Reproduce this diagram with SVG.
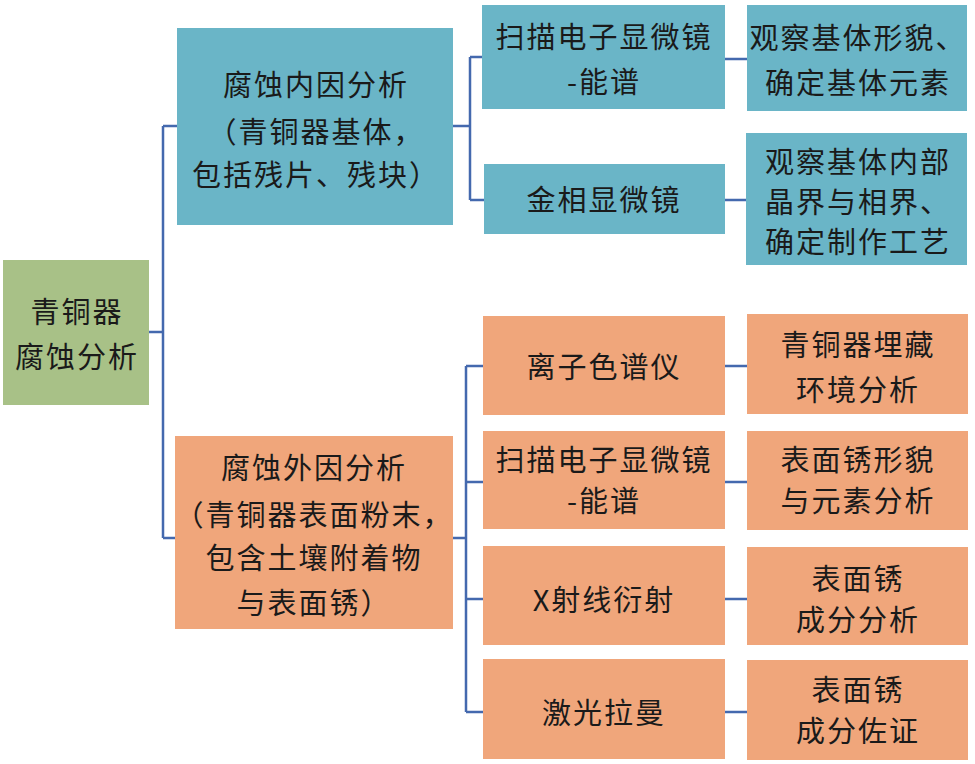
<svg xmlns="http://www.w3.org/2000/svg" width="975" height="764" viewBox="0 0 975 764">
<style>
.blue{fill:#6AB5C7}
.orange{fill:#F0A67B}
.green{fill:#A8C187}
.t{font-family:"Noto Sans CJK SC","Liberation Serif",sans-serif;font-size:29px;letter-spacing:2px;fill:#1a1a1a;text-anchor:middle}
.c{fill:none;stroke:#4469AE;stroke-width:2.5}
</style>
<rect width="975" height="764" fill="#ffffff"/>
<g id="connectors" class="c">
<path d="M149,332 H163 M163,126 V538 M163,126 H177 M163,538 H175"/>
<path d="M453,126 H470 M470,57 V200 M470,57 H482 M470,200 H484"/>
<path d="M725,59 H747 M725,200 H746"/>
<path d="M453,538 H466 M466,366 V712 M466,366 H483 M466,482 H483 M466,599 H483 M466,712 H483"/>
<path d="M725,366 H747 M725,482 H747 M725,599 H747 M725,712 H747"/>
</g>
<g id="root">
<rect class="green" x="3" y="260" width="146" height="145"/>
<text class="t" x="77" y="323">青铜器</text>
<text class="t" x="77" y="368">腐蚀分析</text>
</g>
<g id="internal">
<rect class="blue" x="177" y="28" width="276" height="197"/>
<text class="t" x="316" y="96">腐蚀内因分析</text>
<text class="t" x="316" y="143">（青铜器基体，</text>
<text class="t" x="316" y="186">包括残片、残块）</text>
</g>
<g id="sem1">
<rect class="blue" x="482" y="5" width="243" height="104"/>
<text class="t" x="604" y="48">扫描电子显微镜</text>
<text class="t" x="604" y="93">-能谱</text>
</g>
<g id="obs1">
<rect class="blue" x="747" y="5" width="220" height="106"/>
<text class="t" x="858" y="49">观察基体形貌、</text>
<text class="t" x="858" y="94">确定基体元素</text>
</g>
<g id="metallo">
<rect class="blue" x="484" y="164" width="241" height="70"/>
<text class="t" x="604" y="211">金相显微镜</text>
</g>
<g id="obs2">
<rect class="blue" x="746" y="133" width="221" height="132"/>
<text class="t" x="858" y="173">观察基体内部</text>
<text class="t" x="858" y="213">晶界与相界、</text>
<text class="t" x="858" y="253">确定制作工艺</text>
</g>
<g id="external">
<rect class="orange" x="175" y="436" width="278" height="193"/>
<text class="t" x="314" y="479">腐蚀外因分析</text>
<text class="t" x="314" y="526">（青铜器表面粉末，</text>
<text class="t" x="314" y="569">包含土壤附着物</text>
<text class="t" x="314" y="614">与表面锈）</text>
</g>
<g id="ion">
<rect class="orange" x="483" y="316" width="242" height="99"/>
<text class="t" x="604" y="378">离子色谱仪</text>
</g>
<g id="env">
<rect class="orange" x="747" y="314" width="221" height="100"/>
<text class="t" x="858" y="356">青铜器埋藏</text>
<text class="t" x="858" y="401">环境分析</text>
</g>
<g id="sem2">
<rect class="orange" x="483" y="431" width="242" height="98"/>
<text class="t" x="604" y="471">扫描电子显微镜</text>
<text class="t" x="604" y="512">-能谱</text>
</g>
<g id="rust1">
<rect class="orange" x="747" y="431" width="221" height="99"/>
<text class="t" x="858" y="471">表面锈形貌</text>
<text class="t" x="858" y="512">与元素分析</text>
</g>
<g id="xrd">
<rect class="orange" x="483" y="546" width="242" height="99"/>
<text class="t" x="604" y="611">X射线衍射</text>
</g>
<g id="rust2">
<rect class="orange" x="747" y="547" width="221" height="98"/>
<text class="t" x="858" y="590">表面锈</text>
<text class="t" x="858" y="631">成分分析</text>
</g>
<g id="raman">
<rect class="orange" x="483" y="659" width="242" height="100"/>
<text class="t" x="604" y="724">激光拉曼</text>
</g>
<g id="rust3">
<rect class="orange" x="747" y="660" width="221" height="100"/>
<text class="t" x="858" y="701">表面锈</text>
<text class="t" x="858" y="742">成分佐证</text>
</g>
</svg>
